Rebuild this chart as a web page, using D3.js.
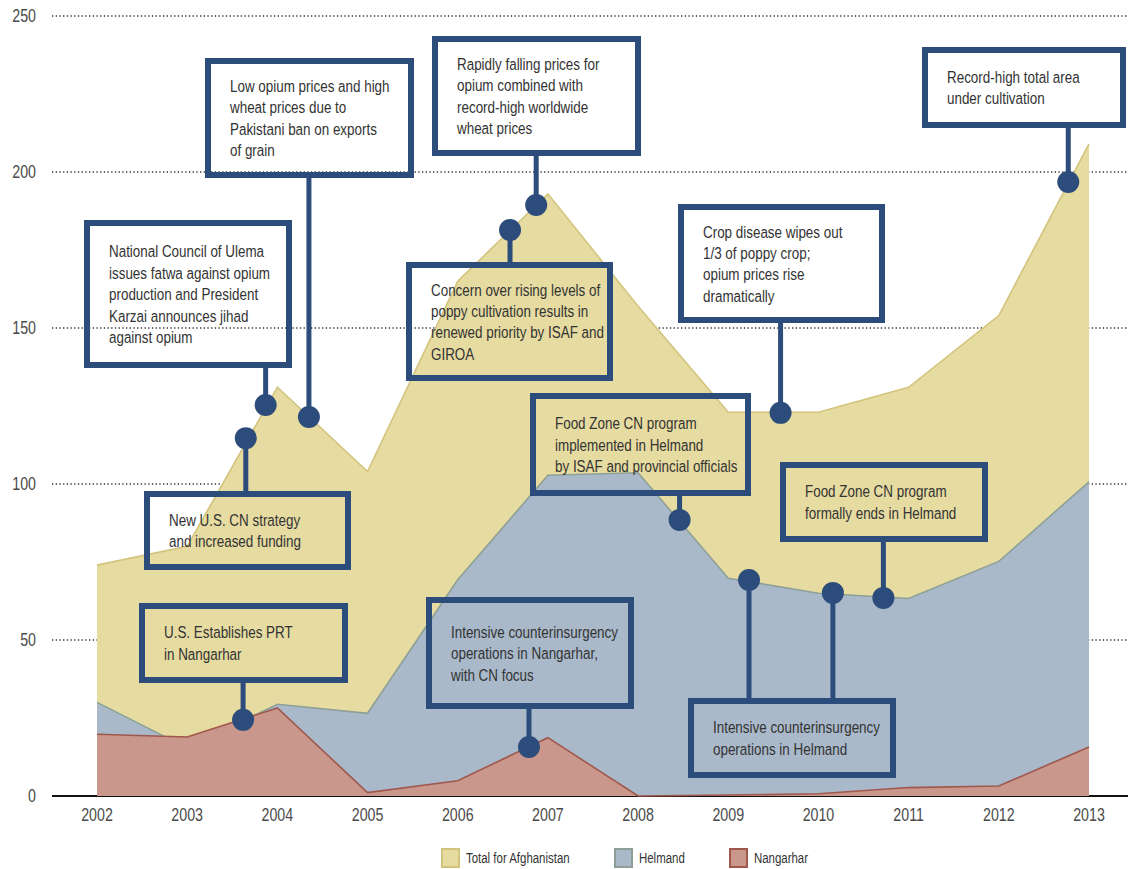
<!DOCTYPE html>
<html>
<head>
<meta charset="utf-8">
<script src="https://cdn.jsdelivr.net/npm/d3@7/dist/d3.min.js"></script>
<style>
  html, body { margin: 0; padding: 0; background: #ffffff; }
  svg { display: block; }
  text { font-family: "Liberation Sans", Arial, sans-serif; }
</style>
</head>
<body>
<svg id="chart" width="1128" height="869"></svg>
<script>
// ---------------- DATA ----------------
const years = [2002, 2003, 2004, 2005, 2006, 2007, 2008, 2009, 2010, 2011, 2012, 2013];
const totalAfghanistan = [74, 80, 131, 104, 165, 193, 157, 123, 123, 131, 154, 209];
const helmand = [30, 15.4, 29.4, 26.5, 69.3, 102.8, 103.6, 69.8, 65, 63.3, 75.2, 100.7];
const nangarhar = [19.8, 18.9, 28.2, 1.1, 4.9, 18.7, 0, 0.3, 0.7, 2.7, 3.2, 15.7];
const yTicks = [0, 50, 100, 150, 200, 250];
const seriesNames = ["Total for Afghanistan", "Helmand", "Nangarhar"];

// annotation texts and anchor points (year, value)
const annotationTexts = [
  ["Low opium prices and high", "wheat prices due to", "Pakistani ban on exports", "of grain"],
  ["National Council of Ulema", "issues fatwa against opium", "production and President", "Karzai announces jihad", "against opium"],
  ["New U.S. CN strategy", "and increased funding"],
  ["U.S. Establishes PRT", "in Nangarhar"],
  ["Rapidly falling prices for", "opium combined with", "record-high worldwide", "wheat prices"],
  ["Concern over rising levels of", "poppy cultivation results in", "renewed priority by ISAF and", "GIROA"],
  ["Crop disease wipes out", "1/3 of poppy crop;", "opium prices rise", "dramatically"],
  ["Record-high total area", "under cultivation"],
  ["Food Zone CN program", "implemented in Helmand", "by ISAF and provincial officials"],
  ["Food Zone CN program", "formally ends in Helmand"],
  ["Intensive counterinsurgency", "operations in Helmand"],
  ["Intensive counterinsurgency", "operations in Nangarhar,", "with CN focus"]
];
const annotationAnchors = [
  [[2004.35, 121.5]],
  [[2003.87, 125.3]],
  [[2003.65, 114.7]],
  [[2003.62, 24.4]],
  [[2006.87, 189.4]],
  [[2006.58, 181.4]],
  [[2009.58, 122.8]],
  [[2012.77, 196.8]],
  [[2008.46, 88.5]],
  [[2010.72, 63.5]],
  [[2009.23, 69.2], [2010.16, 65.1]],
  [[2006.79, 15.7]]
];

// ---------------- LAYOUT ----------------
const W = 1128, H = 869;
const plot = { left: 97, right: 1089, top: 16, bottom: 796 };
// box layout in pixels: x, y, w, h
const boxLayout = [
  { x: 208, y: 61, w: 203, h: 114 },
  { x: 87, y: 223, w: 202, h: 142 },
  { x: 147, y: 494, w: 201, h: 73 },
  { x: 142, y: 606, w: 203, h: 74 },
  { x: 435, y: 39, w: 203, h: 114 },
  { x: 409, y: 265, w: 201, h: 113 },
  { x: 681, y: 207, w: 201, h: 113 },
  { x: 925, y: 50, w: 198, h: 75 },
  { x: 533, y: 396, w: 215, h: 97 },
  { x: 783, y: 465, w: 202, h: 74 },
  { x: 691, y: 701, w: 202, h: 74 },
  { x: 429, y: 600, w: 202, h: 106 }
];

const colors = {
  total: { fill: "#e6dba1", stroke: "#d2c47d" },
  helmand: { fill: "#a9b9ca", stroke: "#8ea096" },
  nangarhar: { fill: "#c9978b", stroke: "#a0574c" }
};
const navy = "#2c4c7b";
const condense = 0.79;

const svg = d3.select("#chart");

const x = d3.scaleLinear().domain([2002, 2013]).range([plot.left, plot.right]);
const y = d3.scaleLinear().domain([0, 250]).range([plot.bottom, plot.top]);

// helper: condensed text at (px, py)
function condText(parent, px, py, str, size, anchor, fill) {
  const g = parent.append("g").attr("transform", `translate(${px},${py}) scale(${condense},1)`);
  g.append("text")
    .attr("x", 0).attr("y", 0).attr("dy", "0.36em")
    .attr("text-anchor", anchor)
    .attr("font-size", size)
    .attr("fill", fill)
    .text(str);
  return g;
}

// gridlines (dotted)
svg.append("g").selectAll("line")
  .data(yTicks.filter(d => d > 0))
  .join("line")
  .attr("x1", 52).attr("x2", W)
  .attr("y1", d => y(d)).attr("y2", d => y(d))
  .attr("stroke", "#333").attr("stroke-width", 1.3)
  .attr("stroke-dasharray", "1.3,2.4");

// baseline
svg.append("line")
  .attr("x1", 52).attr("x2", W)
  .attr("y1", y(0)).attr("y2", y(0))
  .attr("stroke", "#111").attr("stroke-width", 2);

// y labels
const yl = svg.append("g");
yTicks.forEach(t => condText(yl, 36, y(t), String(t), 18, "end", "#4a4a4a"));

// areas
function drawArea(values, c) {
  const data = years.map((yr, i) => ({ yr, v: values[i] }));
  const area = d3.area().x(d => x(d.yr)).y0(y(0)).y1(d => y(d.v));
  const line = d3.line().x(d => x(d.yr)).y(d => y(d.v));
  svg.append("path").datum(data).attr("d", area).attr("fill", c.fill);
  svg.append("path").datum(data).attr("d", line)
    .attr("fill", "none").attr("stroke", c.stroke).attr("stroke-width", 1.6);
}
drawArea(totalAfghanistan, colors.total);
drawArea(helmand, colors.helmand);
drawArea(nangarhar, colors.nangarhar);

// x labels
const xl = svg.append("g");
years.forEach(yr => condText(xl, x(yr), 815, String(yr), 18, "middle", "#4a4a4a"));

// annotations
const ann = svg.append("g");
annotationTexts.forEach((lines, i) => {
  const b = boxLayout[i];
  const g = ann.append("g");
  annotationAnchors[i].forEach(([ax, av]) => {
    const px = x(ax), py = y(av);
    const edgeY = py > b.y + b.h ? b.y + b.h : b.y;
    g.append("line")
      .attr("x1", px).attr("x2", px)
      .attr("y1", edgeY).attr("y2", py)
      .attr("stroke", navy).attr("stroke-width", 5);
    g.append("circle")
      .attr("cx", px).attr("cy", py).attr("r", 11)
      .attr("fill", navy);
  });
  g.append("rect")
    .attr("x", b.x).attr("y", b.y).attr("width", b.w).attr("height", b.h)
    .attr("fill", "none").attr("stroke", navy).attr("stroke-width", 6);
  const lineH = 21.4;
  const textX = b.x + 22;
  const firstY = b.y + b.h / 2 - (lines.length - 1) * lineH / 2;
  lines.forEach((ln, k) => condText(g, textX, firstY + k * lineH, ln, 17, "start", "#333"));
});

// legend
const legendItems = [
  { name: seriesNames[0], c: colors.total, x: 441 },
  { name: seriesNames[1], c: colors.helmand, x: 614 },
  { name: seriesNames[2], c: colors.nangarhar, x: 729 }
];
const lg = svg.append("g");
legendItems.forEach(it => {
  lg.append("rect")
    .attr("x", it.x + 1).attr("y", 849).attr("width", 17).attr("height", 18)
    .attr("fill", it.c.fill).attr("stroke", it.c.stroke).attr("stroke-width", 2);
  condText(lg, it.x + 25, 858, it.name, 14.5, "start", "#333");
});
</script>
</body>
</html>
